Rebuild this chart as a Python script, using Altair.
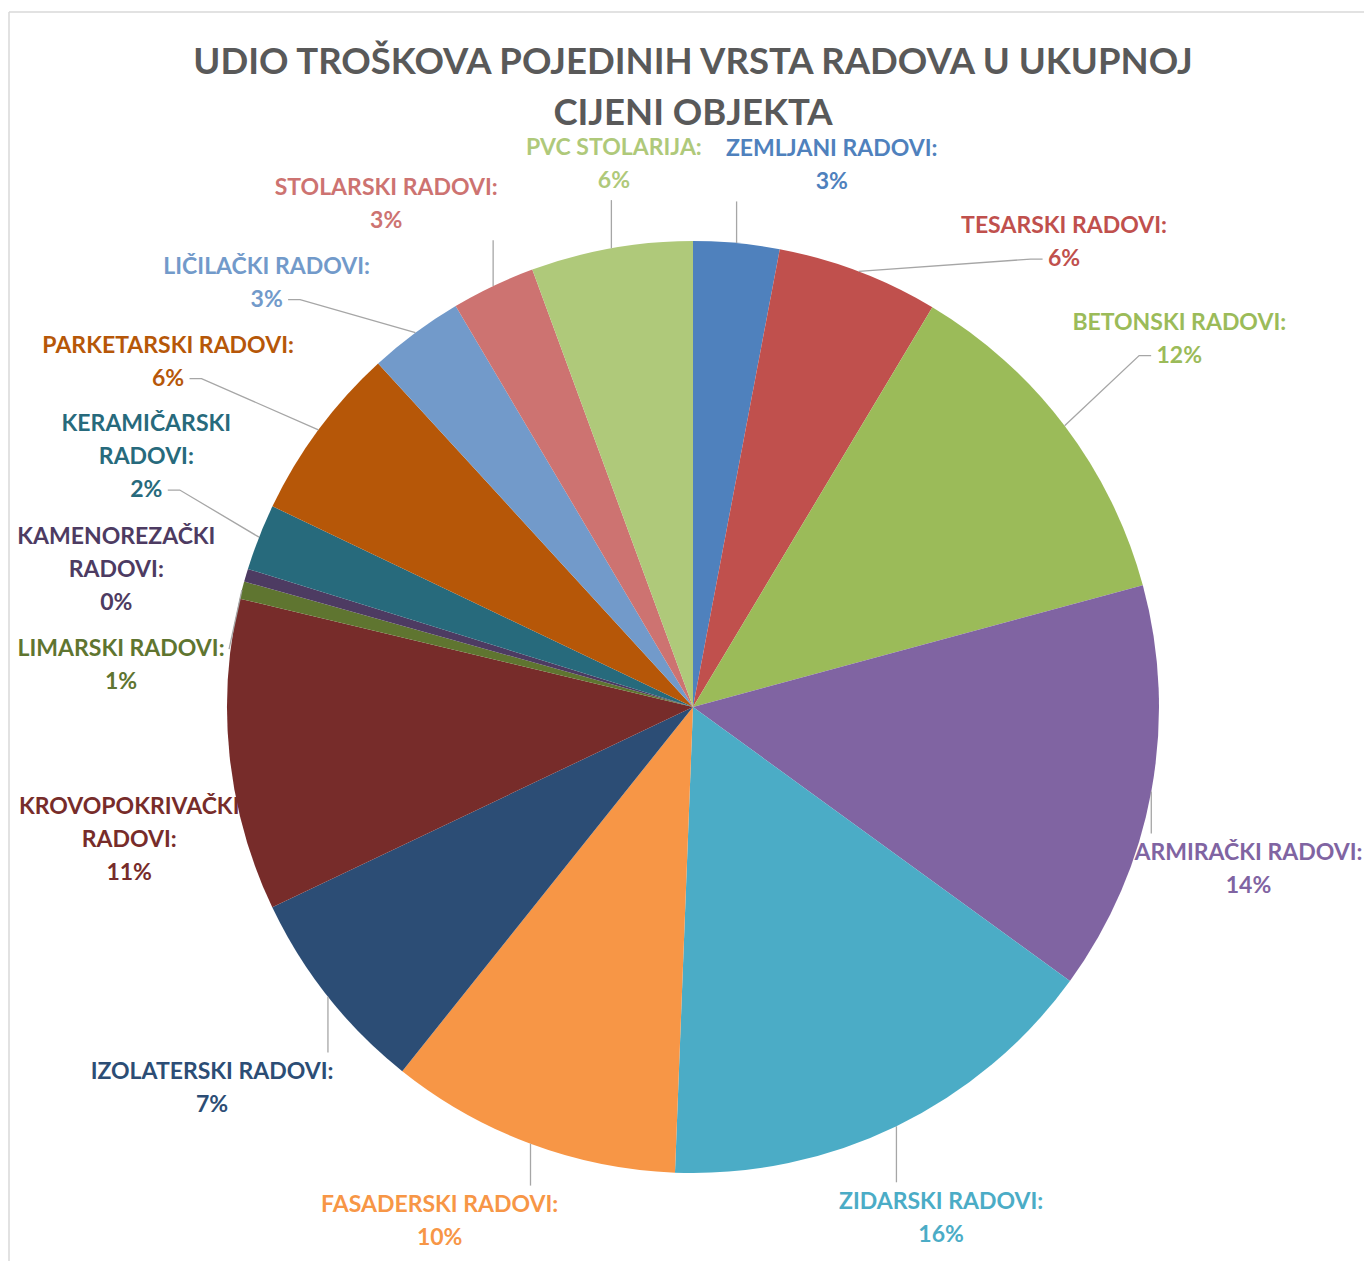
import math
import altair as alt
import pandas as pd

# ---------------- data ----------------
names = [
    "ZEMLJANI RADOVI", "TESARSKI RADOVI", "BETONSKI RADOVI", "ARMIRAČKI RADOVI",
    "ZIDARSKI RADOVI", "FASADERSKI RADOVI", "IZOLATERSKI RADOVI",
    "KROVOPOKRIVAČKI RADOVI", "LIMARSKI RADOVI", "KAMENOREZAČKI RADOVI",
    "KERAMIČARSKI RADOVI", "PARKETARSKI RADOVI", "LIČILAČKI RADOVI",
    "STOLARSKI RADOVI", "PVC STOLARIJA",
]
shares = [2.98, 5.6, 12.2, 14.2, 15.6, 10.1, 7.2, 10.8, 0.6, 0.45, 2.3, 6.1, 3.3, 2.9, 5.6]
colors = [
    "#4F81BD", "#C0504D", "#9BBB59", "#8064A2", "#4BACC6", "#F79646", "#2C4D75",
    "#772C2A", "#5F7530", "#4D3B62", "#276A7C", "#B65708", "#729ACA", "#CD7371", "#AFC97A",
]
title_lines = ["UDIO TROŠKOVA POJEDINIH VRSTA RADOVA U UKUPNOJ", "CIJENI OBJEKTA"]

# ---------------- layout settings ----------------
W, H = 1356, 1113
PAD_TOP = 140
CX, CY = 685, 559          # pie centre inside the plot area (px)
R = 466                    # pie radius (px)
GAP_SIDE, GAP_TOP = 34, 10  # distance between pie and labels
LINE_H = 33
FONT = "Lato"
LABEL_SIZE = 23
MARGIN = 12                # minimum vertical spacing between label boxes
MARGIN_X = 24              # minimum horizontal spacing between label boxes

XMIN, XMAX = -CX + 10, W - CX - 2
YMIN, YMAX = CY - H + 6, CY + 20

# approximate advance widths (em) of Lato Bold, used to size label boxes
EM = {"A": .68, "B": .66, "C": .66, "D": .74, "E": .57, "F": .55, "G": .72, "H": .76,
      "I": .30, "J": .40, "K": .68, "L": .52, "M": .90, "N": .76, "O": .80, "P": .63,
      "Q": .80, "R": .65, "S": .56, "T": .60, "U": .73, "V": .68, "W": 1.0, "X": .66,
      "Y": .63, "Z": .62, "Č": .66, "Š": .56, "Ž": .62, " ": .25, ":": .27, "%": .85}


def text_w(s):
    return sum(EM.get(ch, .58) for ch in s) * LABEL_SIZE


total = sum(shares)
pct = [round(v / total * 100) for v in shares]


def label_lines(name, p):
    head = name + ":"
    if len(head) > 19:
        first, rest = head.rsplit(" ", 1)
        return [first, rest, f"{p}%"]
    return [head, f"{p}%"]


lines_list = [label_lines(nm, p) for nm, p in zip(names, pct)]
widths = [max(text_w(l) for l in ls) for ls in lines_list]
heights = [len(ls) * LINE_H for ls in lines_list]
n = len(names)

mids = []
acc = 0.0
for v in shares:
    mids.append(2 * math.pi * (acc + v / 2) / total)
    acc += v


def nearest_dist(cx, cy, w, h):
    nx = min(max(0.0, cx - w / 2), cx + w / 2)
    ny = min(max(0.0, cy - h / 2), cy + h / 2)
    return math.hypot(nx, ny)


def place(theta, w, h):
    s, c = math.sin(theta), math.cos(theta)
    gap = GAP_SIDE + GAP_TOP * max(0.0, c)
    lo, hi = 0.0, 2000.0
    for _ in range(50):
        m = (lo + hi) / 2
        if nearest_dist(m * s, m * c, w, h) < R + gap:
            lo = m
        else:
            hi = m
    x, y = hi * s, hi * c
    x = min(max(x, XMIN + w / 2), XMAX - w / 2)
    return x, y


ang = mids[:]


def positions():
    return [place(a, w, h) for a, w, h in zip(ang, widths, heights)]


def overlap(i, j, pos):
    (xi, yi), (xj, yj) = pos[i], pos[j]
    return (abs(xi - xj) < (widths[i] + widths[j]) / 2 + MARGIN_X and
            abs(yi - yj) < (heights[i] + heights[j]) / 2 + MARGIN)


step = math.radians(0.2)
TWO_PI = 2 * math.pi
for _ in range(5000):
    pos = positions()
    moved = False
    for i in range(n):
        for k in (1, 2, 3):
            j = (i + k) % n
            if overlap(i, j, pos):
                ang[i] -= step
                ang[j] += step
                moved = True
    for i in range(n):
        x, y = pos[i]
        w, h = widths[i], heights[i]
        a = ang[i] % TWO_PI
        if y - h / 2 < YMIN:
            ang[i] += -step if a < math.pi else step
            moved = True
        if y + h / 2 > YMAX:
            ang[i] += step if a < math.pi else -step
            moved = True
        if nearest_dist(x, y, w, h) < R - 6:
            if a < math.pi:
                ang[i] += step if a > math.pi / 2 else -step
            else:
                ang[i] += -step if a < 1.5 * math.pi else step
            moved = True
    if not moved:
        break
pos = positions()

# ---------------- tables ----------------
slice_df = pd.DataFrame({"name": names, "value": shares, "order": list(range(n))})

# text anchor = centre of the first line of each label block
lab_df = pd.DataFrame({
    "name": names,
    "label": ["\n".join(ls) for ls in lines_list],
    "x": [p[0] for p in pos],
    "y": [p[1] + heights[i] / 2 - LINE_H / 2 for i, p in enumerate(pos)],
})

lead_rows = []
for i in range(n):
    s, c = math.sin(mids[i]), math.cos(mids[i])
    ax, ay = R * s, R * c
    cx, cy = pos[i]
    w, h = widths[i], heights[i]
    left, right, top, bottom = cx - w / 2, cx + w / 2, cy + h / 2, cy - h / 2
    qx = min(max(ax, left), right)
    qy = min(max(ay, bottom), top)
    if math.hypot(qx - ax, qy - ay) < 36:
        continue
    ls = lines_list[i]
    if left <= ax <= right:
        # leader drops straight onto the top / bottom of the label
        ey = top + 3 if ay > top else bottom - 3
        pts = [(ax, ay), (ax, ey)]
    else:
        centres = [top - LINE_H * (k + 0.5) for k in range(len(ls))]
        k = min(range(len(ls)), key=lambda k: abs(centres[k] - ay))
        lw = text_w(ls[k])
        side = 1 if cx > ax else -1
        ex = cx - side * (lw / 2 + 5)
        ey = centres[k]
        bx = ex - side * 12
        if (bx - ax) * side < 4:
            pts = [(ax, ay), (ex, ey)]
        else:
            pts = [(ax, ay), (bx, ey), (ex, ey)]
    for seq, (px, py) in enumerate(pts):
        lead_rows.append({"id": i, "seq": seq, "x": px, "y": py})
lead_df = pd.DataFrame(lead_rows)

xs = alt.Scale(domain=[-CX, W - CX], nice=False, zero=False)
ys = alt.Scale(domain=[CY - H, CY], nice=False, zero=False)
cs = alt.Scale(domain=names, range=colors)

border_top = alt.Chart(alt.Data(values=[{}])).mark_rule(color="#D9D9D9", strokeWidth=1.5).encode(
    x=alt.value(1), x2=alt.value(W + 20), y=alt.value(4 - PAD_TOP)
)
border_left = alt.Chart(alt.Data(values=[{}])).mark_rule(color="#D9D9D9", strokeWidth=1.5).encode(
    x=alt.value(1), y=alt.value(4 - PAD_TOP), y2=alt.value(H + 20)
)

arcs = alt.Chart(slice_df).mark_arc(radius=R).encode(
    theta=alt.Theta("value:Q", stack=True),
    order=alt.Order("order:Q"),
    color=alt.Color("name:N", scale=cs, legend=None),
    x=alt.XDatum(0, type="quantitative", scale=xs, axis=None),
    y=alt.YDatum(0, type="quantitative", scale=ys, axis=None),
)

leaders = alt.Chart(lead_df).mark_line(color="#A6A6A6", strokeWidth=1.3).encode(
    x=alt.X("x:Q", scale=xs, axis=None),
    y=alt.Y("y:Q", scale=ys, axis=None),
    detail="id:N",
    order="seq:Q",
)

labels = alt.Chart(lab_df).mark_text(
    font=FONT, fontSize=LABEL_SIZE, fontWeight="bold", lineBreak="\n", lineHeight=LINE_H,
    align="center", baseline="middle",
).encode(
    x=alt.X("x:Q", scale=xs, axis=None),
    y=alt.Y("y:Q", scale=ys, axis=None),
    text="label:N",
    color=alt.Color("name:N", scale=cs, legend=None),
)

chart = alt.layer(border_top, border_left, arcs, leaders, labels).properties(
    width=W,
    height=H,
    title=alt.TitleParams(
        text=title_lines, font=FONT, fontSize=36.5, fontWeight="bold", color="#595959",
        anchor="middle", offset=-121, lineHeight=51, dx=7,
    ),
    autosize=alt.AutoSizeParams(type="none"),
    padding={"left": 0, "right": 0, "top": PAD_TOP, "bottom": 0},
).configure_view(stroke=None)

chart.save("out.html", embed_options={"renderer": "svg", "actions": False})
